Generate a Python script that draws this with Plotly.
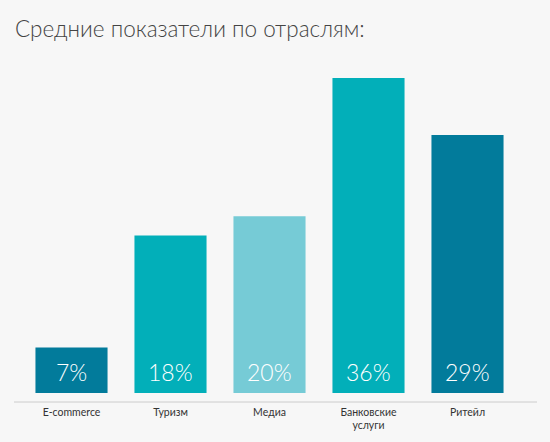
import plotly.graph_objects as go

categories = ["E-commerce", "Туризм", "Медиа", "Банковские<br>услуги", "Ритейл"]
percent_values = [7, 18, 20, 36, 29]
bar_heights = [5.2, 18, 20.2, 36, 29.5]
bar_colors = ["#027b9b", "#02afb9", "#76cbd6", "#02afb9", "#027b9b"]
title_text = "Средние показатели по отраслям:"

L, R, T, B = 22, 33, 60, 40
W, H = 550, 442
pw = W - L - R

fig = go.Figure()
fig.add_trace(go.Bar(
    x=categories, y=bar_heights,
    marker=dict(color=bar_colors, line=dict(width=0)),
    hoverinfo="skip",
))

for c, v in zip(categories, percent_values):
    fig.add_annotation(
        x=c, y=0, xref="x", yref="y", text=f"{v}%", showarrow=False,
        yanchor="middle", yshift=21,
        font=dict(family="Lato", size=23, color="white", weight=300),
    )

fig.add_annotation(
    x=0, y=1, xref="paper", yref="paper", text=title_text, showarrow=False,
    xanchor="left", yanchor="bottom", yshift=16, xshift=14 - L - 1,
    font=dict(family="Lato", size=22.5, color="#444444", weight=300),
)

# axis baseline spanning wider than the category domain
fig.add_shape(
    type="line", xref="paper", yref="paper",
    x0=(14 - L) / pw, x1=(537 - L) / pw, y0=0, y1=0,
    line=dict(color="#cccccc", width=1),
)

fig.update_layout(
    width=W, height=H,
    margin=dict(l=L, r=R, t=T, b=B),
    paper_bgcolor="#f7f7f7", plot_bgcolor="#f7f7f7",
    bargap=0.272, showlegend=False,
    font=dict(family="Lato", color="#444444"),
)
fig.update_xaxes(
    showline=False, showgrid=False, ticks="", ticklabelstandoff=2,
    tickfont=dict(family="Lato", size=10.5, color="#333333"),
)
fig.update_yaxes(range=[-1.03, 38.06], visible=False, showgrid=False, zeroline=False)

fig.write_html(
    "out.html",
    config={"displayModeBar": False, "staticPlot": True},
    post_script="document.body.style.margin='0';document.body.style.background='#f7f7f7';",
)
